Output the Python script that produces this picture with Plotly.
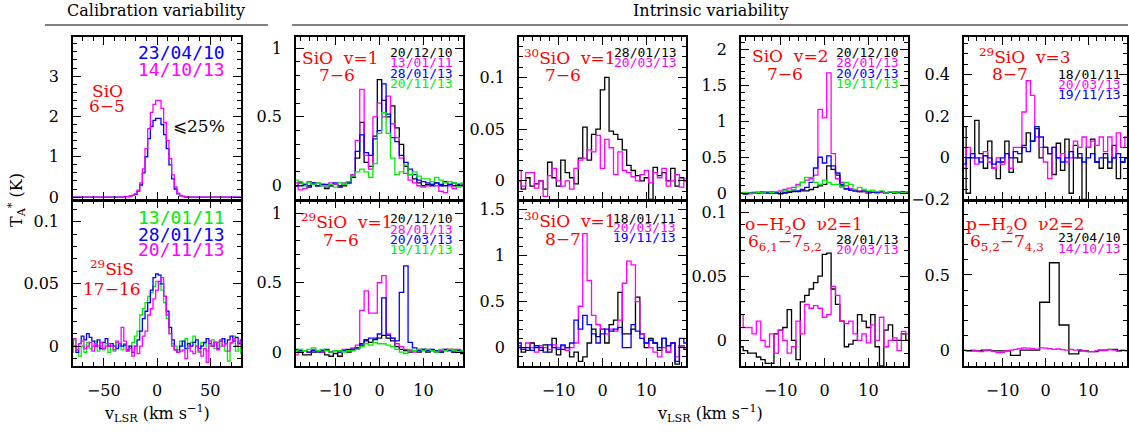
import plotly.graph_objects as go

W, H = 1129, 434
SERIF = "DejaVu Serif"
MONO = "DejaVu Sans Mono"
BLACK, MAG, BLUE, GREEN, RED = "#000000", "#ff00ff", "#0000ff", "#00ee00", "#ff0000"

# ---------------- velocity grids ----------------
v_cal = [-80 + 2.5 * i for i in range(65)]          # calibration panels (km/s)
v_int = list(range(-19, 20))                         # intrinsic panels (km/s)
v_ph2o_black = [-18.4, -16.1, -13.8, -11.6, -9.3, -7.0, -4.8, -2.5, -0.2,
                2.05, 4.3, 6.6, 8.9, 11.1, 13.4, 15.7, 17.9]

# ---------------- SiO 6-5 (calibration) ----------------
sio65_230410 = ([0.0] * 13 +
                [0, 0, 0, 0, 0, 0, 0, 0.01, 0.01, 0.02, 0.04, 0.07, 0.15] +
                [0.3, 0.6, 1.0, 1.45, 1.75, 1.9, 1.95, 1.95, 1.8, 1.55, 1.2, 0.8, 0.45] +
                [0.2, 0.08, 0.03, 0.01, 0, 0, 0, 0, 0, 0, 0, 0, 0] +
                [0.0] * 13)
sio65_141013 = ([0.0] * 13 +
                [0, 0, 0, 0, 0, 0, 0, 0.01, 0.01, 0.02, 0.04, 0.08, 0.17] +
                [0.35, 0.7, 1.2, 1.7, 2.1, 2.3, 2.4, 2.4, 2.2, 1.85, 1.4, 0.95, 0.55] +
                [0.25, 0.1, 0.04, 0.02, 0.01, 0, 0, 0, 0, 0, 0, 0, 0] +
                [0.0] * 13)

# ---------------- 29SiS 17-16 (calibration) ----------------
sis_130111 = [-0.005, 0.005, -0.003, -0.008, 0.0, -0.005, 0.003, -0.002, 0.0, 0.004, -0.004, 0.0, -0.003,
              0.002, -0.005, 0.0, -0.004, 0.003, 0.0, -0.003, 0.002, -0.004, 0.0, 0.003, 0.008, 0.012,
              0.025, 0.03, 0.035, 0.04, 0.043, 0.048, 0.052, 0.05, 0.045, 0.035, 0.022, 0.01, 0.002,
              0.0, -0.003, 0.004, 0.0, 0.006, -0.002, 0.003, 0.008, 0.0, -0.005, 0.003, 0.002, -0.004,
              0.0, 0.005, -0.002, 0.003, 0.0, 0.006, -0.004, -0.012, 0.002, 0.008, -0.004, 0.003, -0.006]
sis_280113 = [0.005, 0.0, -0.005, 0.002, 0.008, 0.005, 0.01, 0.007, 0.004, 0.0, 0.005, -0.002, 0.003,
              0.006, 0.0, 0.002, 0.0, -0.002, 0.002, 0.0, 0.001, -0.003, 0.0, -0.005, 0.0, 0.005,
              0.012, 0.022, 0.028, 0.035, 0.045, 0.055, 0.058, 0.057, 0.05, 0.04, 0.028, 0.015, 0.005,
              -0.003, -0.005, 0.0, 0.004, -0.002, 0.002, 0.0, 0.003, 0.005, -0.002, 0.0, 0.003, 0.006,
              0.002, 0.0, 0.003, -0.002, 0.004, 0.006, 0.002, 0.005, 0.008, 0.004, 0.007, 0.002, 0.005]
sis_201113 = [0.0, 0.006, -0.003, 0.002, 0.004, -0.002, 0.0, 0.003, -0.004, 0.002, 0.0, 0.003, -0.002,
              0.0, 0.002, 0.0, -0.003, 0.004, 0.002, 0.015, 0.004, -0.004, -0.002, -0.008, 0.0, -0.006,
              0.0, 0.008, 0.012, 0.025, 0.03, 0.038, 0.045, 0.052, 0.055, 0.04, 0.025, 0.01, 0.0,
              -0.003, -0.005, -0.004, -0.003, -0.01, 0.0, -0.004, -0.006, 0.0, -0.004, -0.008, -0.002, -0.013,
              0.004, 0.0, 0.003, -0.003, 0.005, 0.0, 0.002, -0.004, 0.003, 0.006, 0.0, 0.004, 0.002]

# ---------------- SiO v=1 7-6 ----------------
sio1_201210 = ([0.0, 0.02, 0.01, -0.01, 0.02, 0.0, 0.01, -0.02, 0.0, 0.01, -0.01, 0.0, 0.02] +
               [0.06, 0.2, 0.46, 0.17, 0.14, 0.36, 0.77, 0.62, 0.5, 0.58, 0.42, 0.3, 0.14, 0.08, 0.05, 0.02, 0.0] +
               [0.01, 0.0, 0.02, 0.0, 0.03, 0.01, 0.0, 0.01, 0.01])
sio1_130111 = ([0.02, -0.03, -0.02, 0.03, 0.01, 0.02, 0.0, -0.01, 0.02, 0.01, 0.0, 0.02, 0.03] +
               [0.08, 0.33, 0.7, 0.22, 0.12, 0.5, 0.6, 0.5, 0.65, 0.45, 0.35, 0.2, 0.09, 0.04, 0.02, 0.0, -0.01] +
               [0.0, 0.01, 0.0, -0.04, -0.05, 0.0, -0.02, 0.0, 0.01])
sio1_280113 = ([0.0, 0.0, 0.01, 0.0, 0.02, 0.0, 0.01, 0.01, 0.0, 0.02, 0.0, 0.01, 0.02] +
               [0.07, 0.25, 0.37, 0.24, 0.22, 0.34, 0.4, 0.74, 0.52, 0.35, 0.32, 0.22, 0.17, 0.12, 0.08, 0.04, 0.03] +
               [0.02, 0.01, 0.02, 0.01, 0.0, 0.01, 0.02, 0.01, 0.0])
sio1_201113 = ([0.04, 0.03, 0.0, 0.02, 0.01, 0.02, 0.0, 0.0, 0.01, -0.01, 0.02, 0.01, 0.03] +
               [0.07, 0.1, 0.12, 0.1, 0.06, 0.16, 0.38, 0.53, 0.38, 0.2, 0.08, 0.1, 0.15, 0.08, 0.1, 0.07, 0.05] +
               [0.05, 0.03, 0.06, 0.04, 0.02, 0.03, 0.02, -0.01, 0.02])

# ---------------- 29SiO v=1 7-6 ----------------
si29o1_201210 = ([0.01, 0.0, -0.02, -0.02, 0.0, 0.01, 0.0, -0.02, -0.03, -0.01, -0.03, 0.01, 0.0] +
                 [0.02, 0.03, 0.05, 0.08, 0.07, 0.09, 0.1, 0.12, 0.1, 0.08, 0.04, 0.02, 0.01, 0.0, 0.01, 0.0, 0.02] +
                 [0.0, 0.01, 0.0, 0.0, 0.01, 0.02, 0.0, 0.01, -0.01])
si29o1_280113 = ([-0.02, 0.01, 0.01, 0.0, 0.02, 0.01, 0.0, 0.01, 0.0, 0.01, 0.0, 0.02, 0.01] +
                 [0.03, 0.05, 0.3, 0.44, 0.28, 0.28, 0.5, 0.55, 0.13, 0.1, 0.06, 0.04, 0.02, 0.01, 0.0, 0.02, 0.01] +
                 [0.02, 0.01, 0.0, 0.01, 0.02, 0.01, 0.02, 0.02, 0.01])
si29o1_200313 = ([0.02, 0.01, 0.01, 0.0, 0.01, 0.0, 0.01, 0.02, 0.0, 0.01, 0.0, 0.01, 0.02] +
                 [0.02, 0.03, 0.06, 0.09, 0.1, 0.1, 0.13, 0.39, 0.12, 0.1, 0.08, 0.43, 0.62, 0.07, 0.03, 0.01, 0.02] +
                 [0.01, 0.02, 0.01, 0.0, 0.02, 0.01, 0.0, 0.01, 0.0])
si29o1_191113 = ([0.01, 0.02, 0.01, 0.02, 0.03, 0.01, 0.02, 0.01, 0.0, 0.01, 0.01, 0.0, 0.01] +
                 [0.01, 0.02, 0.04, 0.06, 0.05, 0.07, 0.06, 0.06, 0.05, 0.04, 0.02, 0.0, -0.01, 0.02, 0.01, 0.02, 0.01] +
                 [0.02, 0.01, 0.0, 0.02, 0.01, 0.02, 0.01, 0.0, 0.01])

# ---------------- 30SiO v=1 7-6 ----------------
si30o76_280113 = ([0.0, -0.008, 0.003, -0.005, -0.003, 0.0, -0.008, 0.018, 0.003, -0.005, 0.02, 0.008, 0.003, -0.003] +
                  [0.022, 0.052, 0.02, 0.045, 0.05, 0.088, 0.1, 0.048, 0.045, 0.04, 0.03, 0.015, 0.01, 0.005, 0.0, 0.003, -0.018] +
                  [0.013, 0.005, 0.008, 0.0, 0.012, -0.005, 0.003, 0.0])
si30o76_200313 = ([0.01, -0.005, 0.008, 0.008, -0.007, 0.0, -0.015, 0.005, 0.012, 0.0, -0.005, 0.0, -0.008, 0.012] +
                  [0.02, 0.022, 0.03, 0.028, 0.044, 0.012, 0.04, 0.032, 0.006, 0.028, 0.01, 0.008, 0.004, 0.0, 0.006, 0.01, -0.002] +
                  [0.008, 0.003, 0.012, -0.005, 0.0, 0.006, -0.006, 0.002])

# ---------------- 30SiO v=1 8-7 ----------------
si30o87_180111 = ([0.0, -0.05, -0.03, 0.05, 0.0, -0.03, 0.03, -0.05, 0.1, -0.08, -0.02, 0.0, -0.1, -0.05] +
                  [-0.15, -0.1, 0.05, 0.2, 0.12, 0.2, 0.05, 0.25, 0.3, 0.6, 0.15, 0.15, 0.2, 0.55, 0.15, 0.0, 0.1] +
                  [0.05, -0.03, 0.1, -0.05, 0.05, -0.18, 0.02, -0.02])
si30o87_200313 = ([0.02, -0.02, 0.05, 0.0, -0.05, 0.02, 0.0, -0.02, 0.03, 0.0, 0.02, -0.03, 0.0, 0.05] +
                  [0.45, 1.24, 0.73, 0.35, 0.25, 0.2, 0.15, 0.2, 0.18, 0.3, 0.7, 0.94, 0.9, 0.5, 0.15, 0.05, 0.0] +
                  [-0.05, -0.1, 0.0, -0.05, 0.05, -0.1, 0.02, 0.0])
si30o87_191113 = ([0.05, -0.02, 0.0, -0.03, 0.02, 0.0, -0.05, 0.03, 0.0, -0.02, 0.03, 0.0, 0.05, 0.3] +
                  [0.2, 0.35, 0.25, 0.15, 0.05, 0.15, 0.2, 0.18, 0.2, 0.22, 0.0, 0.0, 0.25, 0.18, 0.1, 0.05, 0.08] +
                  [0.05, 0.0, 0.1, 0.02, 0.05, -0.15, 0.1, 0.05])

# ---------------- SiO v=2 7-6 ----------------
sio2_201210 = ([0.0, -0.01, 0.0, 0.01, 0.0, 0.02, 0.0, 0.01, 0.0, -0.01, 0.0, 0.01, 0.02, 0.02] +
               [0.03, 0.03, 0.05, 0.08, 0.1, 0.12, 0.38, 0.33, 0.25, 0.1, 0.06, 0.04, 0.03, 0.02, 0.02, 0.0, 0.01] +
               [0.01, 0.02, 0.0, 0.01, 0.0, 0.01, 0.02, 0.0])
sio2_280113 = ([0.0, 0.0, -0.01, 0.0, 0.01, 0.02, 0.01, 0.02, 0.01, 0.03, 0.05, 0.07, 0.08, 0.12] +
               [0.15, 0.18, 0.2, 0.25, 1.17, 1.05, 1.68, 0.55, 0.2, 0.15, 0.1, 0.06, 0.04, 0.03, 0.02, 0.0, 0.01] +
               [0.0, 0.01, 0.0, 0.01, 0.02, 0.0, 0.01, 0.0])
sio2_200313 = ([0.0, -0.01, 0.0, 0.0, 0.01, 0.0, 0.01, 0.0, 0.01, 0.02, 0.01, 0.02, 0.03, 0.03] +
               [0.05, 0.08, 0.15, 0.35, 0.5, 0.42, 0.52, 0.38, 0.28, 0.12, 0.06, 0.04, 0.03, 0.02, 0.03, 0.02, 0.01] +
               [0.01, 0.02, 0.0, 0.01, 0.0, 0.01, 0.01, 0.0])
sio2_191113 = ([0.0, 0.01, 0.0, 0.0, 0.01, 0.0, 0.02, 0.01, 0.02, 0.02, 0.03, 0.04, 0.05, 0.1] +
               [0.15, 0.22, 0.22, 0.15, 0.12, 0.18, 0.15, 0.12, 0.12, 0.08, 0.15, 0.12, 0.05, 0.08, 0.05, 0.03, 0.04] +
               [0.02, 0.03, 0.0, 0.02, 0.01, 0.0, 0.01, 0.02])

# ---------------- o-H2O v2=1 ----------------
oh2o_280113 = [-0.005, -0.008, -0.01, -0.01, -0.013, -0.015, -0.018, -0.018, 0.005, 0.008, 0.01, 0.024, 0.0,
               -0.015, 0.03, 0.035, 0.04, 0.045, 0.05, 0.067, 0.068, 0.04, 0.028, 0.015, -0.005, -0.003,
               0.0, 0.02, 0.015, 0.01, 0.02, -0.005, -0.02, 0.008, 0.012, 0.0, 0.0, 0.005, 0.0]
oh2o_200313 = [0.02, 0.01, 0.01, 0.005, 0.015, 0.0, -0.005, 0.005, -0.01, 0.008, 0.0, -0.01, -0.005,
               0.015, 0.005, 0.028, 0.025, 0.027, 0.025, 0.018, 0.02, 0.042, 0.035, 0.015, 0.013, 0.015,
               0.005, 0.0, 0.005, -0.002, 0.012, 0.0, 0.018, -0.005, 0.0, 0.002, -0.008, 0.007, 0.005]

# ---------------- 29SiO v=3 8-7 ----------------
si29o3_180111 = [0.15, -0.17, 0.0, 0.18, 0.02, -0.05, 0.08, -0.05, -0.1, -0.02, 0.08, -0.07, 0.0,
                 -0.02, 0.06, 0.12, 0.08, 0.14, 0.0, 0.05, 0.02, -0.08, 0.07, -0.06, 0.09, -0.17,
                 0.06, 0.0, -0.2, 0.05, 0.09, -0.02, -0.05, 0.0, -0.05, 0.06, -0.1, -0.02, 0.0]
si29o3_200313 = [-0.05, 0.05, 0.02, -0.03, 0.0, 0.03, -0.02, -0.05, 0.0, -0.03, 0.02, -0.05, 0.05,
                 0.05, 0.22, 0.37, 0.3, 0.1, 0.05, -0.02, -0.1, 0.05, 0.0, 0.02, -0.02, 0.0,
                 0.08, 0.05, 0.1, 0.05, 0.08, 0.06, 0.1, 0.03, 0.1, 0.0, 0.12, 0.05, 0.1]
si29o3_191113 = [-0.03, 0.0, 0.02, 0.0, -0.02, 0.01, 0.0, -0.03, -0.02, 0.0, 0.02, 0.0, 0.03,
                 0.02, 0.05, 0.03, 0.08, 0.15, 0.1, 0.05, 0.02, 0.05, 0.0, -0.02, 0.0, 0.03,
                 0.0, 0.02, -0.02, 0.0, 0.02, -0.02, 0.0, 0.02, -0.02, 0.0, 0.02, -0.02, 0.0]

# ---------------- p-H2O v2=2 ----------------
ph2o_230410 = [0.0, 0.0, 0.005, 0.0, 0.0, -0.03, 0.005, 0.005, 0.32, 0.58, 0.17, -0.02, 0.0,
               -0.005, 0.005, 0.01, 0.0]
ph2o_141013 = [0.005, 0.0, 0.005, 0.0, -0.005, 0.0, 0.005, -0.005, -0.012, -0.01, 0.0, 0.005, 0.01,
               0.015, 0.02, 0.018, 0.015, 0.01, 0.02, 0.018, 0.015, 0.01, 0.012, 0.008, 0.005, 0.01,
               0.005, 0.008, 0.0, -0.005, -0.005, 0.0, 0.005, 0.002, 0.008, 0.005, -0.002, 0.005, 0.0]

# ---------------- layout geometry ----------------
col_left = [73, 296, 519, 741, 964]
col_right = [241, 463, 686, 908, 1127]
row_top = [37, 200.5]
row_bot = [199.5, 366]
xranges = [[-79, 79]] + [[-19, 19]] * 4
yranges = [
    [[-0.06, 3.97], [-0.1, 1.08], [-0.018, 0.139], [-0.09, 2.18], [-0.2, 0.58]],
    [[-0.016, 0.117], [-0.1, 1.09], [-0.2, 1.6], [-0.02, 0.109], [-0.1, 0.99]],
]
ydticks = [
    [(1, 0.2), (0.5, 0.1), (0.05, 0.01), (0.5, 0.1), (0.2, 0.05)],
    [(0.05, 0.01), (0.5, 0.1), (0.5, 0.1), (0.05, 0.01), (0.5, 0.1)],
]

panels = [
    # row 0
    [[(v_cal, sio65_230410, BLUE), (v_cal, sio65_141013, MAG)],
     [(v_int, sio1_201210, BLACK), (v_int, sio1_130111, MAG), (v_int, sio1_280113, BLUE), (v_int, sio1_201113, GREEN)],
     [(v_int, si30o76_280113, BLACK), (v_int, si30o76_200313, MAG)],
     [(v_int, sio2_201210, BLACK), (v_int, sio2_280113, MAG), (v_int, sio2_200313, BLUE), (v_int, sio2_191113, GREEN)],
     [(v_int, si29o3_180111, BLACK), (v_int, si29o3_200313, MAG), (v_int, si29o3_191113, BLUE)]],
    # row 1
    [[(v_cal, sis_130111, GREEN), (v_cal, sis_280113, BLUE), (v_cal, sis_201113, MAG)],
     [(v_int, si29o1_201210, BLACK), (v_int, si29o1_280113, MAG), (v_int, si29o1_200313, BLUE), (v_int, si29o1_191113, GREEN)],
     [(v_int, si30o87_180111, BLACK), (v_int, si30o87_200313, MAG), (v_int, si30o87_191113, BLUE)],
     [(v_int, oh2o_280113, BLACK), (v_int, oh2o_200313, MAG)],
     [(v_ph2o_black, ph2o_230410, BLACK), (v_int, ph2o_141013, MAG)]],
]

fig = go.Figure()
layout = dict(width=W, height=H, margin=dict(l=0, r=0, t=0, b=0, autoexpand=False), autosize=False,
              paper_bgcolor="white", plot_bgcolor="white", showlegend=False, template="none")

def px(x):
    return x / W

def py(y):
    return 1 - y / H

for r in range(2):
    for c in range(5):
        n = r * 5 + c + 1
        sfx = "" if n == 1 else str(n)
        for xs, ys, col in panels[r][c]:
            fig.add_trace(go.Scatter(x=xs, y=ys, mode="lines", line=dict(color=col, width=1.3, shape="hvh"),
                                     xaxis="x" + sfx, yaxis="y" + sfx, hoverinfo="skip"))
        common = dict(showline=True, linecolor="black", linewidth=1.5, mirror="ticks", ticks="inside",
                      ticklen=8, tickwidth=1, tickcolor="black", showgrid=False, zeroline=False,
                      automargin=False,
                      tickfont=dict(family=SERIF, size=16, color="black"), ticklabelstandoff=9)
        layout["xaxis" + sfx] = dict(common, domain=[px(col_left[c]), px(col_right[c])],
                                     range=xranges[c], anchor="y" + sfx,
                                     dtick=50 if c == 0 else 10,
                                     minor=dict(dtick=10 if c == 0 else 2, ticks="inside", ticklen=4,
                                                tickwidth=1, tickcolor="black", showgrid=False),
                                     showticklabels=(r == 1))
        dmaj, dmin = ydticks[r][c]
        layout["yaxis" + sfx] = dict(common, domain=[py(row_bot[r]), py(row_top[r])],
                                     range=yranges[r][c], anchor="x" + sfx, dtick=dmaj,
                                     minor=dict(dtick=dmin, ticks="inside", ticklen=4, tickwidth=1,
                                                tickcolor="black", showgrid=False))

ann = []

def add(text, x, y, color, size, family=SERIF, xanchor="center", angle=0):
    ann.append(dict(text=text, x=px(x), y=py(y), xref="paper", yref="paper", showarrow=False,
                    xanchor=xanchor, yanchor="middle", textangle=angle,
                    font=dict(family=family, size=size, color=color)))

# headers
add("Calibration variability", 156, 11, BLACK, 16)
add("Intrinsic variability", 710, 11, BLACK, 16)
# axis titles
add("v<sub>LSR</sub> (km s<sup>−1</sup>)", 157, 413, BLACK, 16)
add("v<sub>LSR</sub> (km s<sup>−1</sup>)", 710, 413, BLACK, 16)
add("T<sub>A</sub><sup>*</sup> (K)", 16, 200, BLACK, 16, angle=-90)

# col 1 top
add("23/04/10", 227, 52, BLUE, 18, MONO, "right")
add("14/10/13", 227, 69, MAG, 18, MONO, "right")
add("SiO", 107, 91, RED, 17)
add("6−5", 107, 106, RED, 17)
add("⩽25%", 171, 126, BLACK, 17, xanchor="left")
# col 1 bottom
add("13/01/11", 227, 217, GREEN, 18, MONO, "right")
add("28/01/13", 227, 234, BLUE, 18, MONO, "right")
add("20/11/13", 227, 250, MAG, 18, MONO, "right")
add("<sup>29</sup>SiS", 112, 268, RED, 17)
add("17−16", 112, 289, RED, 17)
# col 2 top
add("SiO  v=1", 340, 58, RED, 17)
add("7−6", 337, 75, RED, 17)
for t, yy, cc in [("20/12/10", 53, BLACK), ("13/01/11", 63, MAG), ("28/01/13", 73, BLUE), ("20/11/13", 83, GREEN)]:
    add(t, 455, yy, cc, 13, MONO, "right")
# col 2 bottom
add("<sup>29</sup>SiO  v=1", 299, 221, RED, 17, xanchor="left")
add("7−6", 341, 240, RED, 17)
for t, yy, cc in [("20/12/10", 218, BLACK), ("28/01/13", 229, MAG), ("20/03/13", 239, BLUE), ("19/11/13", 249, GREEN)]:
    add(t, 455, yy, cc, 13, MONO, "right")
# col 3 top
add("<sup>30</sup>SiO  v=1", 522, 57, RED, 17, xanchor="left")
add("7−6", 563, 75, RED, 17)
for t, yy, cc in [("28/01/13", 53, BLACK), ("20/03/13", 63, MAG)]:
    add(t, 679, yy, cc, 13, MONO, "right")
# col 3 bottom
add("<sup>30</sup>SiO  v=1", 522, 220, RED, 17, xanchor="left")
add("8−7", 563, 239, RED, 17)
for t, yy, cc in [("18/01/11", 218, BLACK), ("20/03/13", 228, MAG), ("19/11/13", 238, BLUE)]:
    add(t, 678, yy, cc, 13, MONO, "right")
# col 4 top
add("SiO  v=2", 790, 56, RED, 17)
add("7−6", 785, 74, RED, 17)
for t, yy, cc in [("20/12/10", 53, BLACK), ("28/01/13", 63, MAG), ("20/03/13", 73, BLUE), ("19/11/13", 83, GREEN)]:
    add(t, 901, yy, cc, 13, MONO, "right")
# col 4 bottom
add("o−H<sub>2</sub>O  ν2=1", 743, 225, RED, 17, xanchor="left")
add("6<sub>6,1</sub>−7<sub>5,2</sub>", 746, 243, RED, 17, xanchor="left")
for t, yy, cc in [("28/01/13", 239, BLACK), ("20/03/13", 249, MAG)]:
    add(t, 901, yy, cc, 13, MONO, "right")
# col 5 top
add("<sup>29</sup>SiO  v=3", 977, 56, RED, 17, xanchor="left")
add("8−7", 1010, 74, RED, 17)
for t, yy, cc in [("18/01/11", 74, BLACK), ("20/03/13", 84, MAG), ("19/11/13", 94, BLUE)]:
    add(t, 1123, yy, cc, 13, MONO, "right")
# col 5 bottom
add("p−H<sub>2</sub>O  ν2=2", 964, 225, RED, 17, xanchor="left")
add("6<sub>5,2</sub>−7<sub>4,3</sub>", 968, 243, RED, 17, xanchor="left")
for t, yy, cc in [("23/04/10", 238, BLACK), ("14/10/13", 248, MAG)]:
    add(t, 1123, yy, cc, 13, MONO, "right")

layout["annotations"] = ann
layout["shapes"] = [
    dict(type="line", xref="paper", yref="paper", x0=px(45), x1=px(268), y0=py(25), y1=py(25),
         line=dict(color="black", width=1)),
    dict(type="line", xref="paper", yref="paper", x0=px(292), x1=px(1128), y0=py(25), y1=py(25),
         line=dict(color="black", width=1)),
]
fig.update_layout(**layout)
fig.write_html("out.html", config={"displayModeBar": False},
               post_script="document.body.style.margin='0';document.body.style.overflow='hidden';")
